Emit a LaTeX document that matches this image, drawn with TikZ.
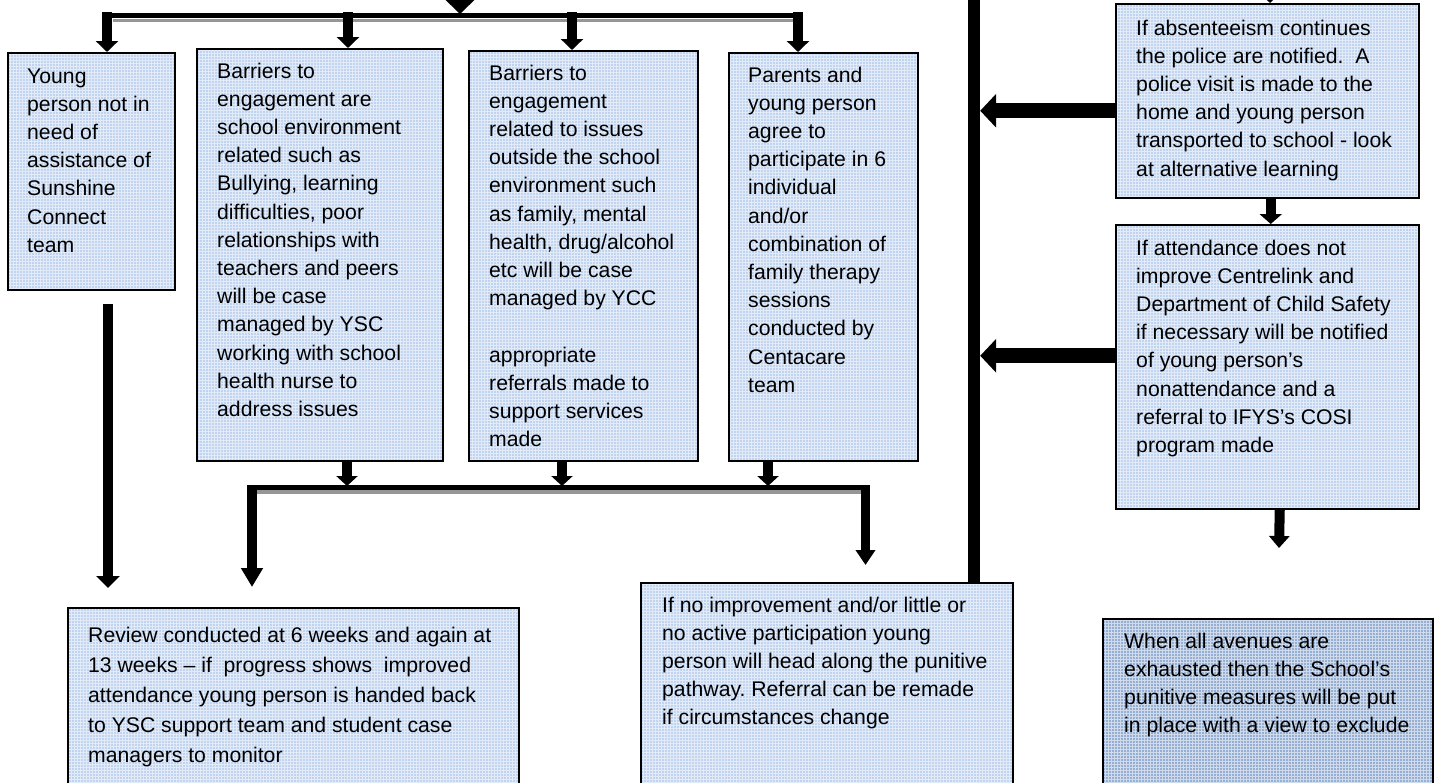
\documentclass[tikz,border=0pt]{standalone}
\usepackage{fontspec}
\setmainfont{Liberation Sans}
\usetikzlibrary{arrows.meta}
\frenchspacing

\definecolor{boxblue}{RGB}{192,211,239}
\definecolor{boxdark}{RGB}{150,174,210}
\definecolor{busshadow}{RGB}{150,150,150}

\tikzset{
  panel/.style={draw=black, line width=1.5pt, fill=boxblue, anchor=north west,
    inner sep=0pt,
    path picture={\draw[white, opacity=0.55, line width=0.8pt]
      (path picture bounding box.south west) grid[step=3pt]
      (path picture bounding box.north east);}},
  paneldark/.style={panel, fill=boxdark},
  txt/.style={anchor=base west, inner sep=0pt,
    font=\fontsize{21.2}{28.2}\selectfont},
  txtwide/.style={txt, font=\fontsize{21.2}{30}\selectfont},
  downarrow/.style={line width=10pt, -{Triangle[width=22pt,length=11pt]}},
  bigleft/.style={line width=15pt, -{Triangle[width=33pt,length=16pt]}},
  bus/.style={line width=5pt},
  busshade/.style={line width=3.5pt, busshadow},
}

\begin{document}
\begin{tikzpicture}[x=1pt, y=-1pt]
\useasboundingbox (0,0) rectangle (1434,782);
\clip (0,0) rectangle (1434,782);

% ---------- boxes ----------
\node[panel, minimum width=167pt, minimum height=237pt] (b1) at (7,52) {};
\node[panel, minimum width=246pt, minimum height=412pt] (b2) at (196,48) {};
\node[panel, minimum width=229pt, minimum height=410pt] (b3) at (468,50) {};
\node[panel, minimum width=189pt, minimum height=408pt] (b4) at (728,52) {};
\node[panel, minimum width=303pt, minimum height=194pt] (bP) at (1115,3) {};
\node[panel, minimum width=303pt, minimum height=284pt] (bC) at (1115,224) {};
\node[panel, minimum width=451pt, minimum height=200pt] (bR) at (67,607) {};
\node[panel, minimum width=372pt, minimum height=220pt] (bN) at (640,582) {};
\node[paneldark, minimum width=330pt, minimum height=190pt] (bE) at (1102,618) {};

% ---------- texts ----------
\node[txt] (t1) at (27,83) {\parbox[t]{160pt}{Young\\person not in\\need of\\assistance of\\Sunshine\\Connect\\team}};
\node[txt] (t2) at (217,78) {\parbox[t]{230pt}{Barriers to\\engagement are\\school environment\\related such as\\Bullying, learning\\difficulties, poor\\relationships with\\teachers and peers\\will be case\\managed by YSC\\working with school\\health nurse to\\address issues}};
\node[txt] (t3) at (489,80) {\parbox[t]{210pt}{Barriers to\\engagement\\related to issues\\outside the school\\environment such\\as family, mental\\health, drug/alcohol\\etc will be case\\managed by YCC\\[28.2pt]appropriate\\referrals made to\\support services\\made}};
\node[txt] (t4) at (748,82) {\parbox[t]{170pt}{Parents and\\young person\\agree to\\participate in 6\\individual\\and/or\\combination of\\family therapy\\sessions\\conducted by\\Centacare\\team}};
\node[txt] (tP) at (1136,35) {\parbox[t]{280pt}{If absenteeism continues\\the police are notified.\ \ A\\police visit is made to the\\home and young person\\transported to school - look\\at alternative learning}};
\node[txt] (tC) at (1136,255) {\parbox[t]{280pt}{If attendance does not\\improve Centrelink and\\Department of Child Safety\\if necessary will be notified\\of young person’s\\nonattendance and a\\referral to IFYS’s COSI\\program made}};
\node[txtwide] (tR) at (88,642) {\parbox[t]{430pt}{Review conducted at 6 weeks and again at\\13 weeks – if\ \ progress shows\ \ improved\\attendance young person is handed back\\to YSC support team and student case\\managers to monitor}};
\node[txt] (tN) at (662,612) {\parbox[t]{350pt}{If no improvement and/or little or\\no active participation young\\person will head along the punitive\\pathway. Referral can be remade\\if circumstances change}};
\node[txt] (tE) at (1124,648) {\parbox[t]{310pt}{When all avenues are\\exhausted then the School’s\\punitive measures will be put\\in place with a view to exclude}};

% ---------- top distribution bus ----------
\coordinate (topin) at (460,-20);
\coordinate (topjoin) at (460,14);
\coordinate (tbL) at (103,15.8);
\coordinate (tbR) at (803,15.8);
\coordinate (tsL) at (113,20.5);
\coordinate (tsR) at (793,20.5);
\draw[busshade] (tsL) -- (tsR);
\draw[bus] (tbL) -- (tbR);
\draw[line width=10pt, -{Triangle[width=28pt,length=14pt]}] (topin) -- (topjoin);

\coordinate (br1) at (107,12);
\coordinate (br2) at (348,12);
\coordinate (br3) at (572,12);
\coordinate (br4) at (798,12);
\draw[downarrow] (br1) -- (br1 |- b1.north);
\draw[downarrow] (br2) -- (br2 |- b2.north);
\draw[downarrow] (br3) -- (br3 |- b3.north);
\draw[downarrow] (br4) -- (br4 |- b4.north);

% ---------- lower collection bus ----------
\coordinate (x2) at (347,0);
\coordinate (x3) at (562,0);
\coordinate (x4) at (768,0);
\coordinate (bbTop) at (0,486);
\draw[downarrow, -{Triangle[width=21pt,length=10pt]}] (x2 |- b2.south) -- (x2 |- bbTop);
\draw[downarrow, -{Triangle[width=21pt,length=10pt]}] (x3 |- b3.south) -- (x3 |- bbTop);
\draw[downarrow, -{Triangle[width=21pt,length=10pt]}] (x4 |- b4.south) -- (x4 |- bbTop);

\coordinate (bbL) at (247,487.5);
\coordinate (bbR) at (870,487.5);
\coordinate (bsL) at (257,492);
\coordinate (bsR) at (861,492);
\draw[busshade] (bsL) -- (bsR);
\draw[bus] (bbL) -- (bbR);

\coordinate (lvTop) at (252,485);
\coordinate (lvEnd) at (252,587);
\coordinate (rvTop) at (865.5,485);
\coordinate (rvEnd) at (865.5,565);
\draw[line width=10pt, -{Triangle[width=21pt,length=19pt]}] (lvTop) -- (lvEnd);
\draw[line width=9pt, -{Triangle[width=19pt,length=15pt]}] (rvTop) -- (rvEnd);

% ---------- young person: straight down ----------
\coordinate (ypTop) at (108,304);
\coordinate (ypEnd) at (108,588);
\draw[line width=10pt, -{Triangle[width=23pt,length=12pt]}] (ypTop) -- (ypEnd);

% ---------- right-hand spine ----------
\node[fill=black, inner sep=0pt, minimum width=12pt, minimum height=588pt, anchor=north] (spine) at (974,-6) {};

\coordinate (pin) at (1270,-30);
\draw[downarrow] (pin) -- (pin |- bP.north);

\coordinate (pOut) at ([yshift=-10pt]bP.west);
\coordinate (cOut) at ([yshift=11pt]bC.west);
\draw[bigleft] (pOut) -- (pOut -| spine.east);
\draw[bigleft] (cOut) -- (cOut -| spine.east);

\coordinate (pc) at ([xshift=3.5pt]bP.south);
\draw[downarrow, -{Triangle[width=22pt,length=10pt]}] (pc) -- (pc |- bC.north);

\coordinate (cDown) at ([xshift=12.5pt]bC.south);
\coordinate (cEnd) at (1279,548);
\draw[downarrow, -{Triangle[width=20pt,length=12pt]}] (cDown) -- (cEnd);
\end{tikzpicture}
\end{document}
